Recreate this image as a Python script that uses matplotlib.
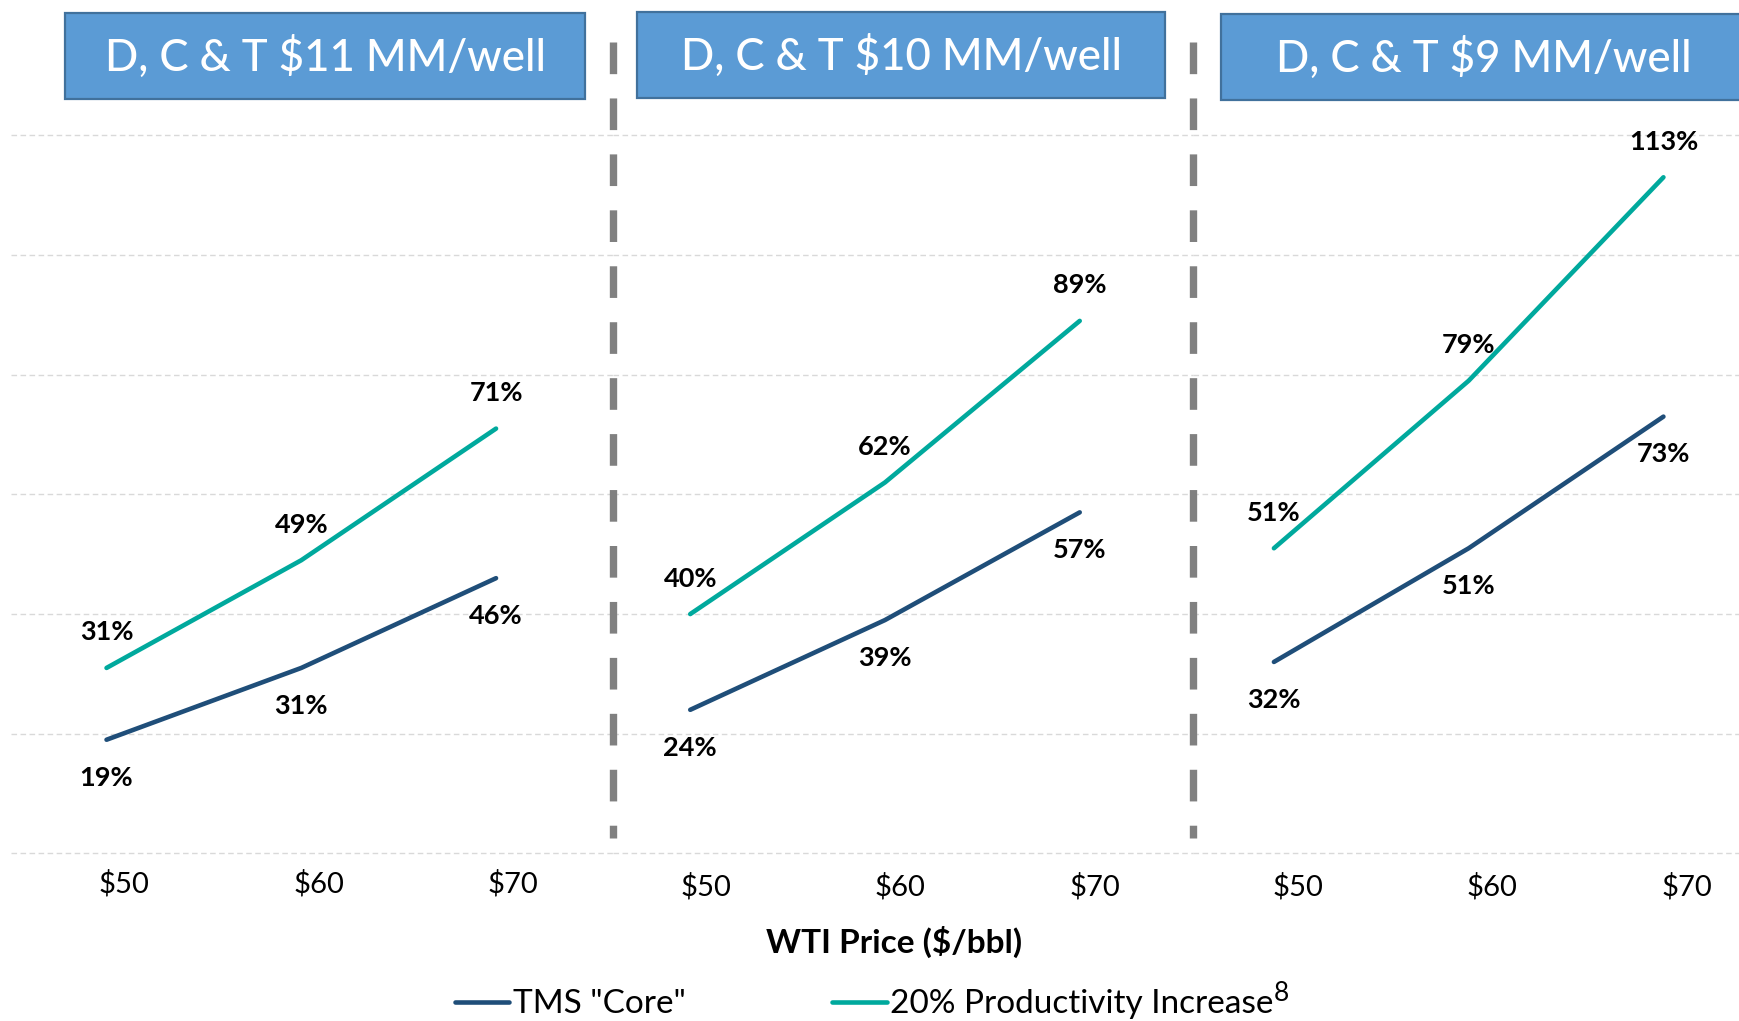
import matplotlib.pyplot as plt
import matplotlib.transforms as mtransforms
from matplotlib.lines import Line2D
from matplotlib.patches import Rectangle

plt.rcParams['font.family'] = ['Lato', 'DejaVu Sans']

# data
panel_titles = ['D, C & T $11 MM/well', 'D, C & T $10 MM/well', 'D, C & T $9 MM/well']
prices = ['$50', '$60', '$70']
core = [[19, 31, 46], [24, 39, 57], [32, 51, 73]]
productivity = [[31, 49, 71], [40, 62, 89], [51, 79, 113]]
series_names = ['TMS "Core"', '20% Productivity Increase']
footnote = '8'

CORE_COL = '#1F4E79'
PROD_COL = '#00A99D'
BOX_FILL = '#5B9BD5'
BOX_EDGE = '#41719C'

# layout measured on a 1568 x 920 grid
W, H = 1568.0, 920.0
def fx(x):
    return x / W
def fy(y):
    return 1 - y / H

fig = plt.figure(figsize=(17.4, 10.21), dpi=100)

edges = [(10, 552), (552, 1075), (1075, 1568)]
first_pt = [96, 622, 1148]
step = 175.5
tick_shift = [12.5, 11.0, 17.0]  # tick labels sit right of the points
y0, y1 = 769, 122

for i, (l, r) in enumerate(edges):
    ax = fig.add_axes([fx(l), fy(y0), fx(r) - fx(l), fy(y1) - fy(y0)])
    ax.set_xlim(-(first_pt[i] - l) / step, (r - first_pt[i]) / step)
    ax.set_ylim(0, 120)
    x = range(len(prices))
    l_core, = ax.plot(x, core[i], color=CORE_COL, lw=3.3, solid_capstyle='round', zorder=3)
    l_prod, = ax.plot(x, productivity[i], color=PROD_COL, lw=3.3, solid_capstyle='round', zorder=3)
    for xi, v in zip(x, productivity[i]):
        ax.annotate(f'{v}%', (xi, v), xytext=(0, 25.6), textcoords='offset points',
                    ha='center', va='center', fontsize=19.5, fontweight='bold')
    for xi, v in zip(x, core[i]):
        ax.annotate(f'{v}%', (xi, v), xytext=(0, -27.2), textcoords='offset points',
                    ha='center', va='center', fontsize=19.5, fontweight='bold')

    ax.set_xticks(list(x), prices)
    ax.tick_params(axis='x', length=0, labelsize=21, pad=12 if i == 0 else 14)
    off = mtransforms.ScaledTranslation(tick_shift[i] / 72, 0, fig.dpi_scale_trans)
    for lab in ax.get_xticklabels():
        lab.set_transform(lab.get_transform() + off)
    ax.set_yticks(range(0, 121, 20))
    ax.tick_params(axis='y', left=False, labelleft=False)
    ax.grid(axis='y', color='#D9D9D9', lw=1.0, linestyle=(0, (4, 2.5)))
    for gl in ax.get_ygridlines():
        gl.set_clip_on(False)
    for s in ax.spines.values():
        s.set_visible(False)
    ax.set_facecolor('none')

# dashed separators
for xs in [552, 1075]:
    fig.add_artist(Line2D([fx(xs), fx(xs)], [fy(38), fy(755)], color='#808080', lw=5.3,
                          linestyle=(0, (4.3, 3.3)), dash_capstyle='butt'))

# title boxes
boxes = [(59, 527, 12, 89), (574, 1050, 11, 88), (1100, 1580, 13, 90)]
text_cx = [293, 812, 1337]
for (bl, br, bt, bb), cx, title in zip(boxes, text_cx, panel_titles):
    fig.add_artist(Rectangle((fx(bl), fy(bb)), fx(br) - fx(bl), fy(bt) - fy(bb),
                             facecolor=BOX_FILL, edgecolor=BOX_EDGE, lw=1.6,
                             transform=fig.transFigure))
    fig.text(fx(cx), fy((bt + bb) / 2 + 1), title, color='white', fontsize=31.5,
             fontweight='medium', ha='center', va='center')

fig.text(fx(806), fy(849), 'WTI Price ($/bbl)', fontsize=24, fontweight='bold',
         ha='center', va='center')

leg = fig.legend([l_core, l_prod], series_names, loc='center left',
                 bbox_to_anchor=(fx(410), fy(905)), ncol=2, frameon=False, fontsize=24,
                 borderpad=0, borderaxespad=0, handlelength=1.63, handletextpad=0.1,
                 columnspacing=4.4)

# footnote marker after the second legend entry
fig.canvas.draw()
bb = leg.get_texts()[1].get_window_extent()
fx_pix, fy_pix = fig.transFigure.inverted().transform((bb.x1 + 1, bb.y1))
fig.text(fx_pix, fy_pix - 0.004, footnote, fontsize=19, ha='left', va='center')

fig.savefig('out.png', dpi=100)
